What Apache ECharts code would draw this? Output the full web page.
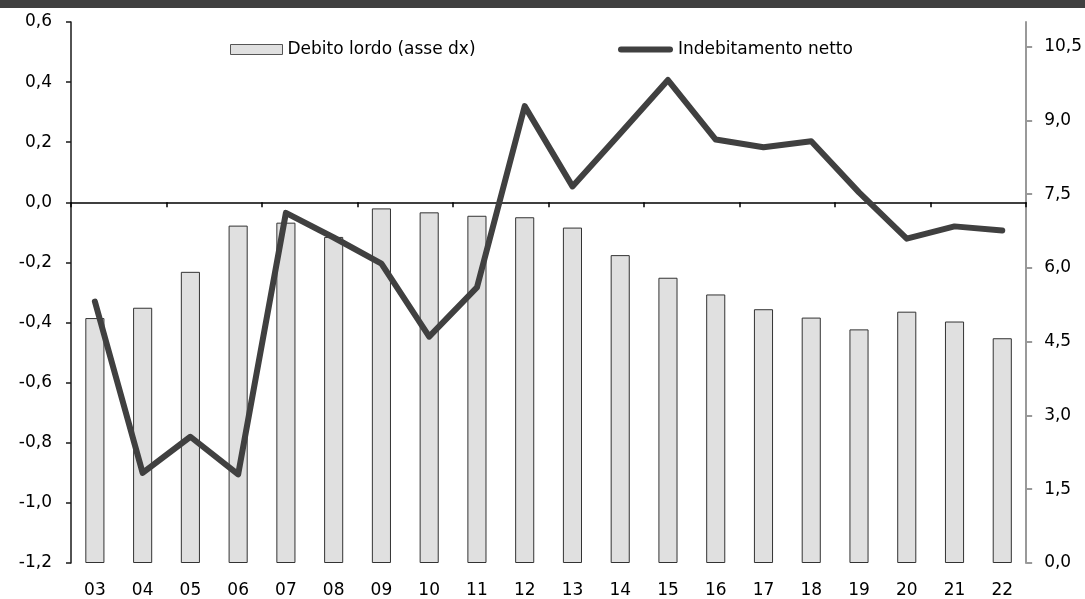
<!DOCTYPE html>
<html>
<head>
<meta charset="utf-8">
<script src="https://cdn.jsdelivr.net/npm/echarts@6/dist/echarts.min.js"></script>
<style>
html,body{margin:0;padding:0;background:#fff;}
#chart{width:1085px;height:599px;}
</style>
</head>
<body>
<div id="chart"></div>
<script>
const categories = ['03','04','05','06','07','08','09','10','11','12','13','14','15','16','17','18','19','20','21','22'];
const debitoLordo = [4.98,5.19,5.92,6.86,6.92,6.63,7.21,7.13,7.06,7.03,6.82,6.26,5.80,5.46,5.16,4.99,4.75,5.11,4.91,4.57];
const indebitamentoNetto = [-0.33,-0.90,-0.78,-0.905,-0.035,-0.117,-0.204,-0.447,-0.283,0.32,0.053,0.229,0.407,0.209,0.183,0.203,0.033,-0.121,-0.08,-0.094];
const rightTicks = [0,1.5,3,4.5,6,7.5,9,10.5];
const seriesNames = ['Debito lordo (asse dx)','Indebitamento netto'];

const FONT = 'DejaVu Sans';
const FS = 17;
const fmt = v => v.toFixed(1).replace('.', ',');

const chart = echarts.init(document.getElementById('chart'), null, {renderer:'canvas'});
chart.setOption({
  animation:false,
  backgroundColor:'#ffffff',
  textStyle:{fontFamily:FONT},
  graphic:[{type:'rect', left:0, top:0, shape:{width:1085, height:8}, style:{fill:'#404040'}, z:10}],
  grid:{left:71, right:58, top:22, bottom:36, containLabel:false},
  legend:[
    {data:[{name:seriesNames[0], icon:'rect'}], left:230, top:41, padding:0, itemWidth:52, itemHeight:10, itemGap:0,
     itemStyle:{color:'#e0e0e0', borderColor:'#555', borderWidth:1},
     textStyle:{fontFamily:FONT, fontSize:FS, color:'#000'}},
    {data:[{name:seriesNames[1], icon:'path://M3,0 L52,0 A3,3 0 0 1 52,6 L3,6 A3,3 0 0 1 3,0 Z'}],
     left:618, top:41, padding:0, itemWidth:55, itemHeight:7, itemGap:0,
     itemStyle:{color:'#404040', borderWidth:0},
     textStyle:{fontFamily:FONT, fontSize:FS, color:'#000'}}
  ],
  xAxis:[
    {type:'category', data:categories, position:'bottom', boundaryGap:true,
     axisLine:{show:false}, axisTick:{show:false},
     axisLabel:{fontFamily:FONT, fontSize:FS, color:'#000', margin:19, interval:0}},
    {type:'category', data:categories, position:'bottom', boundaryGap:true,
     axisLine:{show:true, onZero:true, onZeroAxisIndex:0, lineStyle:{color:'#000', width:1.5}},
     axisTick:{show:true, interval:1, length:5, lineStyle:{color:'#000', width:1.5}},
     axisLabel:{show:false}}
  ],
  yAxis:[
    {type:'value', min:-1.2, max:0.6, interval:0.2, position:'left',
     axisLine:{show:true, onZero:false, lineStyle:{color:'#1a1a1a', width:1.5}},
     axisTick:{show:true, length:5, lineStyle:{color:'#1a1a1a', width:1.5}},
     splitLine:{show:false},
     axisLabel:{fontFamily:FONT, fontSize:FS, color:'#000', margin:19, formatter:fmt}},
    {type:'value', min:0, max:11, position:'right',
     axisLine:{show:true, onZero:false, lineStyle:{color:'#999', width:2}},
     axisTick:{show:true, length:6, customValues:rightTicks, lineStyle:{color:'#999', width:2}},
     splitLine:{show:false},
     axisLabel:{fontFamily:FONT, fontSize:FS, color:'#000', margin:18, customValues:rightTicks, formatter:fmt}}
  ],
  series:[
    {name:seriesNames[0], type:'bar', xAxisIndex:0, yAxisIndex:1, data:debitoLordo,
     barWidth:'40%', itemStyle:{color:'#e0e0e0', borderColor:'#333', borderWidth:1}, z:1},
    {name:seriesNames[1], type:'line', xAxisIndex:0, yAxisIndex:0, data:indebitamentoNetto,
     symbol:'none', lineStyle:{color:'#404040', width:6, cap:'round', join:'round'},
     itemStyle:{color:'#404040'}, z:5}
  ]
});
</script>
</body>
</html>
